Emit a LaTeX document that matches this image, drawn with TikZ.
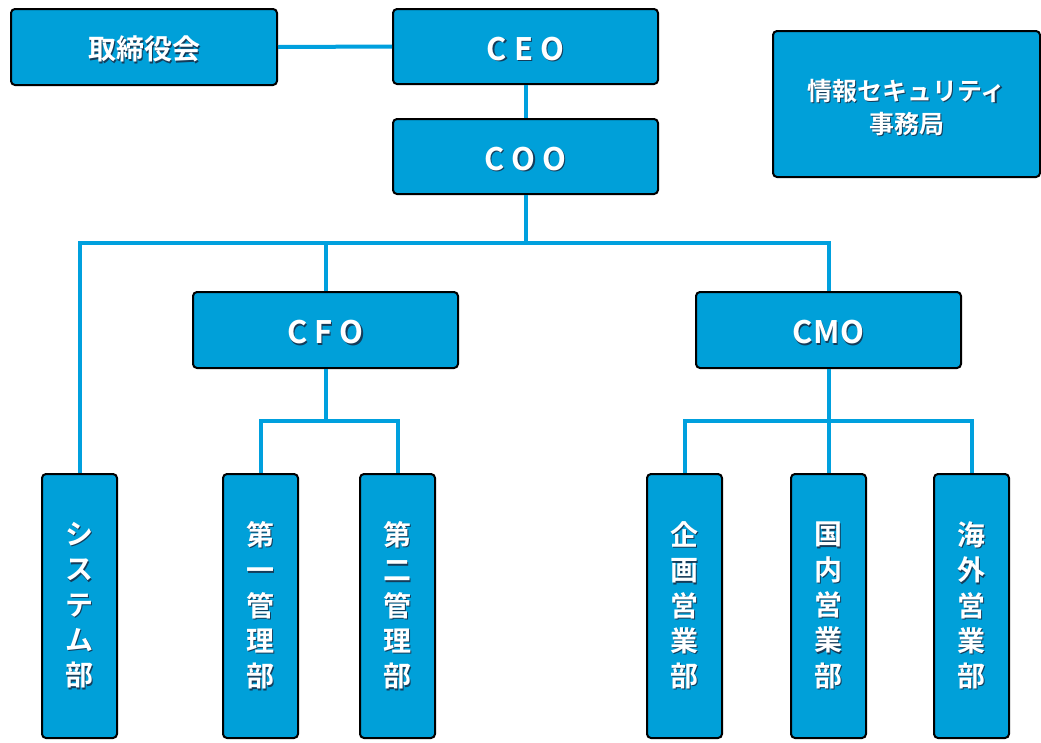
\documentclass[tikz,border=0pt]{standalone}
\usepackage{fontspec}
\setmainfont{Noto Sans CJK JP}[BoldFont=* Bold]
\definecolor{boxblue}{RGB}{0,160,217}
\definecolor{lineblue}{RGB}{0,160,222}
\definecolor{shadowc}{RGB}{20,60,90}
\newcommand\shd[1]{\leavevmode\rlap{\kern1.3pt\raisebox{-1.3pt}{\textcolor{shadowc}{#1}}}#1}
\newcommand\dn[2]{\raisebox{-#1}[\height][\depth]{\shd{#2}}}
\tikzset{
  orgbox/.style={draw=black, line width=2pt, rounded corners=4pt, fill=boxblue,
    text=white, inner sep=0pt, align=center},
  hbox/.style={orgbox, minimum width=265pt, minimum height=75pt},
  vbox/.style={orgbox, minimum width=75pt, minimum height=264pt,
    font=\bfseries\fontsize{28}{35.3}\selectfont},
  conn/.style={draw=lineblue, line width=4pt},
  latin/.style={font=\bfseries\fontsize{31}{36}\selectfont},
  jp/.style={font=\bfseries\fontsize{28}{34}\selectfont}
}
\begin{document}
\begin{tikzpicture}[x=1pt,y=-1pt]
\useasboundingbox (0,0) rectangle (1041,742);
% top row
\node[hbox, jp, minimum width=266pt, minimum height=76pt] (tori) at (144,47) {\dn{3pt}{取締役会}};
\node[hbox, latin] (ceo) at (525.5,46.5) {\dn{3pt}{C\hspace{7pt}E\hspace{7pt}O}};
\node[hbox, latin] (coo) at (525.5,156.5) {\dn{3pt}{C\hspace{7pt}O\hspace{7pt}O}};
\node[hbox, minimum width=267pt, minimum height=146pt, font=\bfseries\fontsize{25}{33}\selectfont] (sec) at (906.5,104) {\dn{4pt}{情報セキュリティ}\\\dn{4pt}{事務局}};
% middle row
\node[hbox, latin, minimum height=76pt] (cfo) at (325.5,330) {\dn{3pt}{C\hspace{7pt}F\hspace{7pt}O}};
\node[hbox, latin, minimum height=76pt] (cmo) at (828.5,330) {\dn{3pt}{C\hspace{0.5pt}M\hspace{0.5pt}O}};
% bottom row
\node[vbox] (sys) at (79.5,606) {\shd{シ}\\\shd{ス}\\\shd{テ}\\\shd{ム}\\\shd{部}};
\node[vbox] (d1) at (260.5,606) {\shd{第}\\\shd{一}\\\shd{管}\\\shd{理}\\\shd{部}};
\node[vbox] (d2) at (397.5,606) {\shd{第}\\\shd{二}\\\shd{管}\\\shd{理}\\\shd{部}};
\node[vbox] (p1) at (684.5,606) {\shd{企}\\\shd{画}\\\shd{営}\\\shd{業}\\\shd{部}};
\node[vbox] (p2) at (828.5,606) {\shd{国}\\\shd{内}\\\shd{営}\\\shd{業}\\\shd{部}};
\node[vbox] (p3) at (971.5,606) {\shd{海}\\\shd{外}\\\shd{営}\\\shd{業}\\\shd{部}};
% connectors
\coordinate (bus) at (525.5,243);
\coordinate (fb) at (325.5,421);
\coordinate (mb) at (828.5,421);
\draw[conn] (tori.east) -- (ceo.west);
\draw[conn] (ceo.south) -- (coo.north);
\draw[conn] (coo.south) -- (bus);
\draw[conn] (sys.north) |- (bus) -| (cmo.north);
\draw[conn] (cfo.north) -- (cfo.north |- bus);
\draw[conn] (cfo.south) -- (fb);
\draw[conn] (d1.north) |- (fb) -| (d2.north);
\draw[conn] (cmo.south) -- (mb);
\draw[conn] (p1.north) |- (mb) -| (p3.north);
\draw[conn] (mb) -- (p2.north);
\end{tikzpicture}
\end{document}
